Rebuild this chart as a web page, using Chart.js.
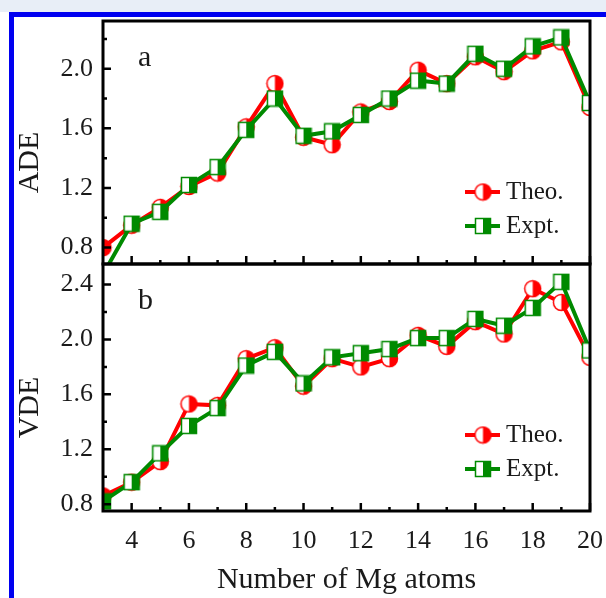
<!DOCTYPE html>
<html>
<head>
<meta charset="utf-8">
<script src="https://cdn.jsdelivr.net/npm/chart.js@4.4.1/dist/chart.umd.min.js"></script>
<style>
  html, body { margin: 0; padding: 0; background: #fff; }
  #page { position: relative; width: 606px; height: 598px; overflow: hidden; background: #fff; }
  #strip { position: absolute; left: 0; top: 0; width: 606px; height: 12px; background: #e8eef7; }
  #frame { position: absolute; left: 9px; top: 12px; width: 610px; height: 610px;
           border-top: 5px solid #0000f0; border-left: 5px solid #0000f0; }
  canvas { position: absolute; left: 0; top: 0; }
</style>
</head>
<body>
<div id="page">
  <div id="strip"></div>
  <div id="frame"></div>
  <canvas id="ade" width="606" height="598"></canvas>
  <canvas id="vde" width="606" height="598"></canvas>
</div>
<script>
// number of Mg atoms (x)
const MG_ATOMS = [3, 4, 5, 6, 7, 8, 9, 10, 11, 12, 13, 14, 15, 16, 17, 18, 19, 20];

// panel a: ADE (eV)
const ADE_THEO = [0.80, 0.95, 1.07, 1.21, 1.30, 1.61, 1.90, 1.54, 1.49, 1.71, 1.78, 1.99, 1.90, 2.08, 1.98, 2.12, 2.18, 1.74];
const ADE_EXPT = [0.62, 0.96, 1.04, 1.22, 1.34, 1.59, 1.80, 1.55, 1.58, 1.69, 1.80, 1.92, 1.90, 2.10, 2.00, 2.15, 2.21, 1.77];

// panel b: VDE (eV)
const VDE_THEO = [0.86, 0.96, 1.11, 1.53, 1.52, 1.86, 1.94, 1.66, 1.86, 1.80, 1.86, 2.03, 1.95, 2.13, 2.04, 2.37, 2.27, 1.87];
const VDE_EXPT = [0.82, 0.96, 1.17, 1.37, 1.50, 1.81, 1.91, 1.68, 1.87, 1.90, 1.93, 2.01, 2.01, 2.15, 2.10, 2.23, 2.42, 1.92];

// ticks
const X_MAJOR = [4, 6, 8, 10, 12, 14, 16, 18, 20];
const X_MINOR = [5, 7, 9, 11, 13, 15, 17, 19];
const Y_MAJOR = [0.8, 1.2, 1.6, 2.0, 2.4];
const Y_MINOR = [1.0, 1.4, 1.8, 2.2];

const RED = '#ff0000';
const GREEN = '#008a00';
const INK = '#1a1a1a';
const SERIF = '"Liberation Serif", "DejaVu Serif", serif';

// ── half filled markers ───────────────────────────────────────────────────────

function halfCircle(color, r) {
    const c = document.createElement('canvas');
    c.width = c.height = Math.ceil(r * 2 + 3);
    const g = c.getContext('2d');
    const m = c.width / 2;
    g.fillStyle = '#fff';
    g.beginPath(); g.arc(m, m, r, 0, Math.PI * 2); g.fill();
    g.fillStyle = color;
    g.beginPath(); g.moveTo(m, m); g.arc(m, m, r, -Math.PI / 2, Math.PI / 2); g.closePath(); g.fill();
    g.strokeStyle = color; g.lineWidth = 1.5;
    g.beginPath(); g.arc(m, m, r, 0, Math.PI * 2); g.stroke();
    return c;
}

function halfSquare(color, s) {
    const c = document.createElement('canvas');
    c.width = c.height = Math.ceil(s + 3);
    const g = c.getContext('2d');
    const o = (c.width - s) / 2;
    g.fillStyle = '#fff';
    g.fillRect(o, o, s, s);
    g.fillStyle = color;
    g.fillRect(o + s / 2, o, s / 2, s);
    g.strokeStyle = color; g.lineWidth = 1.5;
    g.strokeRect(o, o, s, s);
    return c;
}

const MARK_THEO = halfCircle(RED, 8);
const MARK_EXPT = halfSquare(GREEN, 15);

// ── frame, inward ticks, panel letter, y title, legend ───────────────────────

const panelDecor = {
    id: 'panelDecor',
    afterDraw(chart, args, opts) {
        const { ctx, chartArea: a, scales: { x, y } } = chart;
        const inY = v => v >= y.min && v <= y.max;
        ctx.save();
        ctx.strokeStyle = '#000';
        ctx.lineWidth = 2.5;
        ctx.beginPath();
        X_MAJOR.forEach(v => { const p = x.getPixelForValue(v); ctx.moveTo(p, a.bottom); ctx.lineTo(p, a.bottom - 8); });
        X_MINOR.forEach(v => { const p = x.getPixelForValue(v); ctx.moveTo(p, a.bottom); ctx.lineTo(p, a.bottom - 4); });
        Y_MAJOR.filter(inY).forEach(v => { const p = y.getPixelForValue(v); ctx.moveTo(a.left, p); ctx.lineTo(a.left + 8, p); });
        Y_MINOR.filter(inY).forEach(v => { const p = y.getPixelForValue(v); ctx.moveTo(a.left, p); ctx.lineTo(a.left + 4, p); });
        ctx.stroke();
        ctx.lineWidth = 3;
        ctx.strokeRect(a.left, a.top, a.right - a.left, a.bottom - a.top);

        ctx.fillStyle = INK;
        ctx.font = '30px ' + SERIF;
        ctx.textAlign = 'left';
        ctx.textBaseline = 'alphabetic';
        ctx.fillText(opts.letter, a.left + 35, a.top + 45);

        // legend: line segment with marker, then label
        ctx.font = '25px ' + SERIF;
        ctx.textBaseline = 'middle';
        chart.data.datasets.forEach((ds, i) => {
            const ly = a.top + 171 + i * 34;
            ctx.strokeStyle = ds.borderColor;
            ctx.lineWidth = 4;
            ctx.beginPath(); ctx.moveTo(a.right - 125, ly); ctx.lineTo(a.right - 90, ly); ctx.stroke();
            const img = ds.pointStyle;
            ctx.drawImage(img, a.right - 107 - img.width / 2, ly - img.height / 2);
            ctx.fillText(ds.label, a.right - 84, ly);
        });

        // y title
        ctx.translate(30, (a.top + a.bottom) / 2 + 20);
        ctx.rotate(-Math.PI / 2);
        ctx.textAlign = 'center';
        ctx.font = '30px ' + SERIF;
        ctx.fillText(opts.title, 0, 0);
        ctx.restore();
    }
};

function series(label, values, color, mark, order) {
    return {
        label,
        data: values.map((v, i) => ({ x: MG_ATOMS[i], y: v })),
        borderColor: color,
        backgroundColor: color,
        borderWidth: 4,
        pointStyle: mark,
        pointRadius: 8,
        tension: 0,
        order
    };
}

function makePanel(canvasId, theo, expt, yMin, yMax, opts) {
    const ctx = document.getElementById(canvasId);
    return new Chart(ctx, {
        type: 'line',
        data: {
            datasets: [
                series('Theo.', theo, RED, MARK_THEO, 1),
                series('Expt.', expt, GREEN, MARK_EXPT, 0)
            ]
        },
        options: {
            responsive: false,
            animation: false,
            layout: { padding: opts.padding },
            plugins: {
                legend: { display: false },
                tooltip: { enabled: false },
                panelDecor: { letter: opts.letter, title: opts.title }
            },
            scales: {
                x: {
                    type: 'linear',
                    min: 3,
                    max: 20,
                    display: opts.showX,
                    grid: { display: false, drawTicks: false },
                    border: { display: false },
                    afterBuildTicks: axis => { axis.ticks = X_MAJOR.map(value => ({ value })); },
                    afterFit: axis => {
                        axis.height = opts.showX ? 87 : 0;
                        axis.paddingLeft = 0;
                        axis.paddingRight = 0;
                    },
                    ticks: { color: INK, font: { family: SERIF, size: 26 }, padding: 15, maxRotation: 0 },
                    title: {
                        display: true,
                        text: 'Number of Mg atoms',
                        color: INK,
                        font: { family: SERIF, size: 30 },
                        padding: { top: 0, bottom: 0 }
                    }
                },
                y: {
                    min: yMin,
                    max: yMax,
                    grid: { display: false, drawTicks: false },
                    border: { display: false },
                    afterBuildTicks: axis => {
                        axis.ticks = Y_MAJOR.filter(v => v >= yMin && v <= yMax).map(value => ({ value }));
                    },
                    afterFit: axis => { axis.width = 103; axis.paddingTop = 0; axis.paddingBottom = 0; },
                    ticks: {
                        color: INK,
                        font: { family: SERIF, size: 26 },
                        padding: 10,
                        callback: v => v.toFixed(1)
                    }
                }
            }
        },
        plugins: [panelDecor]
    });
}

makePanel('ade', ADE_THEO, ADE_EXPT, 0.69, 2.32, {
    letter: 'a', title: 'ADE', showX: false,
    padding: { top: 21, right: 16, bottom: 334, left: 0 }
});
makePanel('vde', VDE_THEO, VDE_EXPT, 0.75, 2.55, {
    letter: 'b', title: 'VDE', showX: true,
    padding: { top: 264, right: 16, bottom: 0, left: 0 }
});
</script>
</body>
</html>
